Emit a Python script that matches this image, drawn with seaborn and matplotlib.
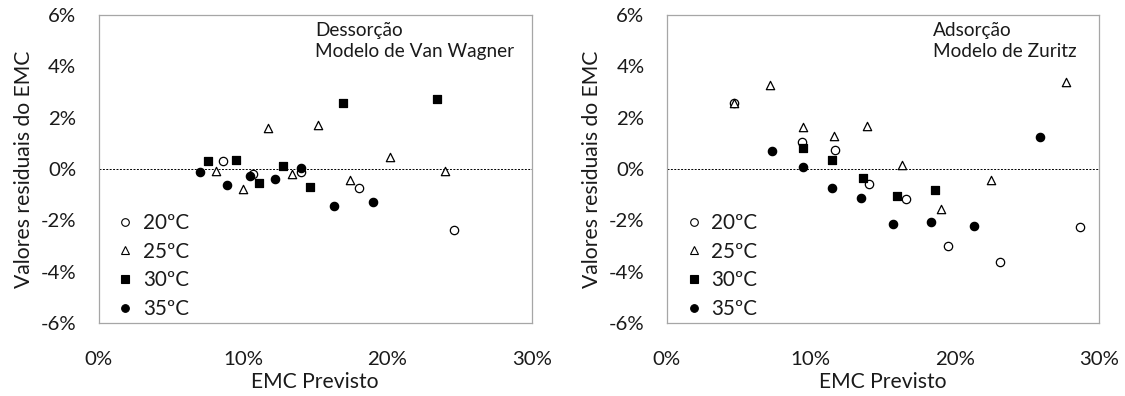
import matplotlib
matplotlib.use("Agg")
import matplotlib.pyplot as plt
import seaborn as sns
import pandas as pd
from matplotlib.ticker import FuncFormatter
from matplotlib.lines import Line2D

sns.set_theme(style="white")
plt.rcParams['font.family'] = ['Lato', 'DejaVu Sans']

temps = ["20ºC", "25ºC", "30ºC", "35ºC"]

# Left panel: Dessorção - Modelo de Van Wagner (x = EMC previsto %, y = residual %)
des_20_x = [8.6, 10.7, 14.0, 18.0, 24.6]
des_20_y = [0.30, -0.18, -0.13, -0.74, -2.37]
des_25_x = [8.1, 10.0, 11.7, 13.4, 15.2, 17.4, 20.2, 24.0]
des_25_y = [-0.07, -0.78, 1.58, -0.21, 1.71, -0.43, 0.47, -0.08]
des_30_x = [7.6, 9.5, 11.1, 12.8, 14.6, 16.9, 23.4]
des_30_y = [0.30, 0.36, -0.56, 0.10, -0.70, 2.58, 2.74]
des_35_x = [7.0, 8.9, 10.5, 12.2, 14.0, 16.3, 19.0]
des_35_y = [-0.10, -0.61, -0.29, -0.38, 0.03, -1.46, -1.29]

# Right panel: Adsorção - Modelo de Zuritz
ads_20_x = [4.7, 9.4, 11.7, 14.0, 16.6, 19.5, 23.1, 28.7]
ads_20_y = [2.58, 1.06, 0.72, -0.57, -1.17, -3.00, -3.61, -2.26]
ads_25_x = [4.7, 7.2, 9.45, 11.6, 13.9, 16.3, 19.0, 22.5, 27.7]
ads_25_y = [2.56, 3.27, 1.64, 1.30, 1.66, 0.17, -1.56, -0.43, 3.40]
ads_30_x = [9.45, 11.5, 13.65, 16.0, 18.6]
ads_30_y = [0.83, 0.34, -0.37, -1.06, -0.81]
ads_35_x = [7.3, 9.45, 11.45, 13.5, 15.7, 18.3, 21.3, 25.9]
ads_35_y = [0.70, 0.07, -0.73, -1.13, -2.13, -2.06, -2.22, 1.26]

x_ticks = [0, 10, 20, 30]
y_ticks = [-6, -4, -2, 0, 2, 4, 6]

markers = {"20ºC": "o", "25ºC": "^", "30ºC": "s", "35ºC": "o"}
faces = {"20ºC": "white", "25ºC": "white", "30ºC": "black", "35ºC": "black"}
sizes = {"20ºC": 36, "25ºC": 36, "30ºC": 32, "35ºC": 36}

def frame(xs, ys):
    rows = []
    for t, xx, yy in zip(temps, xs, ys):
        for a, b in zip(xx, yy):
            rows.append({"x": a, "y": b, "temp": t})
    return pd.DataFrame(rows)

df_des = frame([des_20_x, des_25_x, des_30_x, des_35_x],
               [des_20_y, des_25_y, des_30_y, des_35_y])
df_ads = frame([ads_20_x, ads_25_x, ads_30_x, ads_35_x],
               [ads_20_y, ads_25_y, ads_30_y, ads_35_y])

fig = plt.figure(figsize=(11.25, 3.96), dpi=100)
ax1 = fig.add_axes([0.0876, 0.1843, 0.3853, 0.778])
ax2 = fig.add_axes([0.5926, 0.1843, 0.3845, 0.778])

renderer = fig.canvas.get_renderer()

def fitted_size(s, target_px, base=14.0):
    t = fig.text(0, 0, s, fontsize=base)
    w = t.get_window_extent(renderer).width
    t.remove()
    return base * target_px / w

tick_fs = fitted_size("10%", 40)
label_fs = fitted_size("EMC Previsto", 128)
legend_fs = max(fitted_size("20ºC", 46), 13.0)
note_fs = fitted_size("Modelo de Van Wagner", 200)

pct = FuncFormatter(lambda v, p: f"{int(round(v))}%")

for ax, df, title, tx in [(ax1, df_des, "Dessorção\nModelo de Van Wagner", 0.499),
                          (ax2, df_ads, "Adsorção\nModelo de Zuritz", 0.616)]:
    ax.axhline(0, color="black", linestyle=(0, (2, 1.5)), linewidth=0.7, zorder=1)
    for t in temps:
        sub = df[df["temp"] == t]
        sns.scatterplot(data=sub, x="x", y="y", ax=ax, marker=markers[t],
                        color=faces[t], edgecolor="black", linewidth=0.9,
                        s=sizes[t], zorder=3, legend=False)
    ax.set_xlim(0, 30)
    ax.set_ylim(-6, 6)
    ax.set_xticks(x_ticks)
    ax.set_yticks(y_ticks)
    ax.xaxis.set_major_formatter(pct)
    ax.yaxis.set_major_formatter(pct)
    ax.tick_params(axis="both", direction="out", length=6, width=0.9,
                   labelsize=tick_fs, colors="#A6A6A6", labelcolor="#1a1a1a")
    ax.tick_params(axis="x", pad=14)
    ax.tick_params(axis="y", pad=10)
    for s in ax.spines.values():
        s.set_color("#A6A6A6")
        s.set_linewidth(0.9)
    ax.set_xlabel("EMC Previsto", fontsize=label_fs, color="#1a1a1a", labelpad=3)
    ax.set_ylabel("Valores residuais do EMC", fontsize=label_fs, color="#1a1a1a", labelpad=5)
    ax.text(tx, 0.978, title, transform=ax.transAxes, ha="left", va="top",
            fontsize=note_fs, color="#1a1a1a", linespacing=1.3)
    handles = [Line2D([], [], linestyle="none", marker=markers[t],
                      markerfacecolor=faces[t], markeredgecolor="black",
                      markeredgewidth=0.8, markersize=5.5) for t in temps]
    ax.legend(handles, temps, loc="center left", bbox_to_anchor=(0.043, 0.185),
              frameon=False, fontsize=legend_fs, handlelength=0.8,
              handletextpad=0.45, labelspacing=0.42, borderpad=0,
              borderaxespad=0, labelcolor="#1a1a1a")

fig.savefig("out.png", dpi=100)
